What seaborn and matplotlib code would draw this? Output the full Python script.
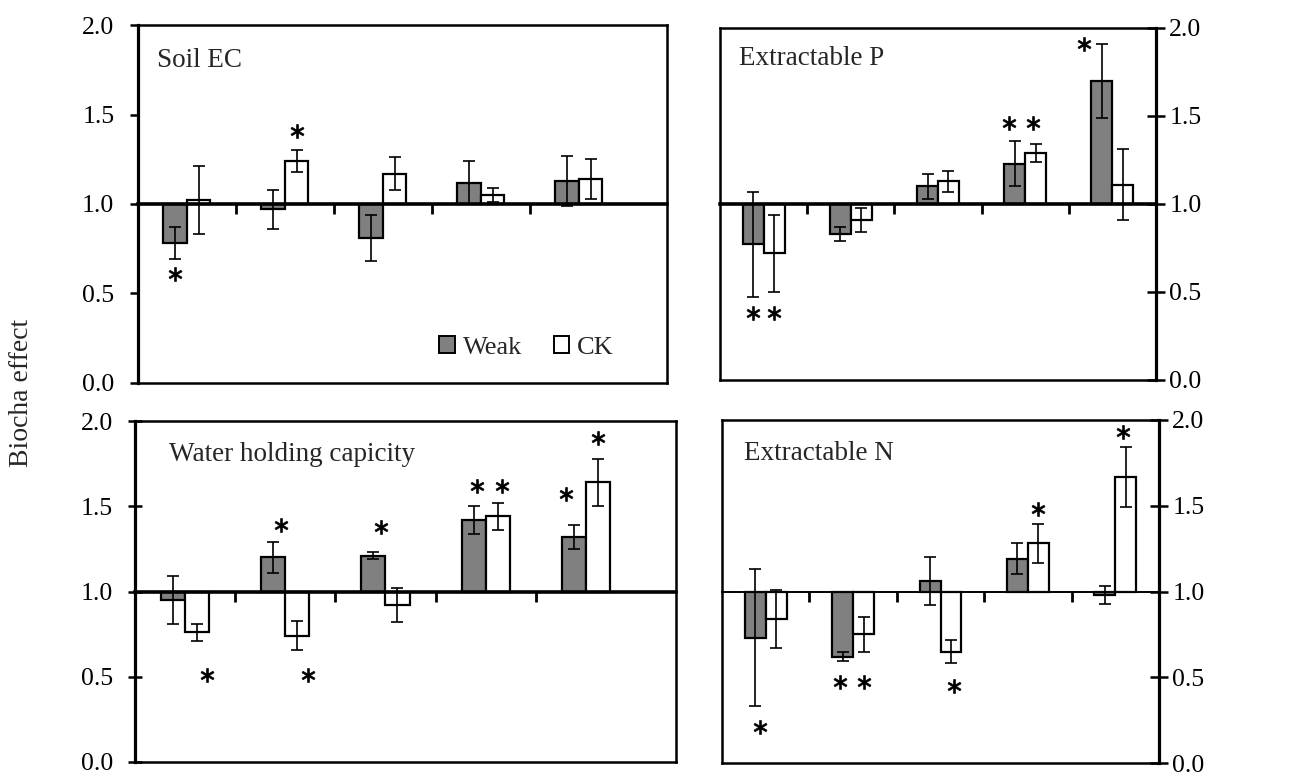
import matplotlib
matplotlib.use("Agg")
import matplotlib.pyplot as plt
import seaborn as sns
import pandas as pd
from matplotlib.patches import Patch
from matplotlib.ticker import FormatStrFormatter

# ---------------- data ----------------
treatments = ["Weak", "CK"]
groups = ["G1", "G2", "G3", "G4", "G5"]   # categories are unlabeled in the figure
panel_titles = ["Soil EC", "Extractable P", "Water holding capicity", "Extractable N"]
y_label = "Biocha effect"
y_ticks = [0.0, 0.5, 1.0, 1.5, 2.0]

# Soil EC
ec_weak = [0.78, 0.97, 0.81, 1.12, 1.13]
ec_weak_err = [0.09, 0.11, 0.13, 0.12, 0.14]
ec_ck = [1.02, 1.24, 1.17, 1.05, 1.14]
ec_ck_err = [0.19, 0.06, 0.09, 0.04, 0.11]
# significance marks: (group index, treatment, level, horizontal shift in category units)
ec_stars = [(0, "Weak", 0.61, 0.0), (1, "CK", 1.41, 0.0)]

# Extractable P
p_weak = [0.77, 0.83, 1.10, 1.23, 1.70]
p_weak_err = [0.30, 0.04, 0.07, 0.13, 0.21]
p_ck = [0.72, 0.91, 1.13, 1.29, 1.11]
p_ck_err = [0.22, 0.07, 0.06, 0.05, 0.20]
p_stars = [(0, "Weak", 0.38, 0.0), (0, "CK", 0.38, 0.0), (3, "Weak", 1.46, -0.07),
           (3, "CK", 1.46, -0.03), (4, "Weak", 1.91, -0.20)]

# Water holding capacity
w_weak = [0.95, 1.20, 1.21, 1.42, 1.32]
w_weak_err = [0.14, 0.09, 0.02, 0.08, 0.07]
w_ck = [0.76, 0.74, 0.92, 1.44, 1.64]
w_ck_err = [0.05, 0.085, 0.10, 0.08, 0.14]
w_stars = [(0, "CK", 0.51, 0.10), (1, "Weak", 1.39, 0.08), (1, "CK", 0.51, 0.11),
           (2, "Weak", 1.38, 0.08), (3, "Weak", 1.62, 0.03), (3, "CK", 1.62, 0.04),
           (4, "Weak", 1.57, -0.08), (4, "CK", 1.90, 0.0)]

# Extractable N
n_weak = [0.73, 0.62, 1.06, 1.19, 0.98]
n_weak_err = [0.40, 0.025, 0.14, 0.09, 0.05]
n_ck = [0.84, 0.75, 0.65, 1.28, 1.67]
n_ck_err = [0.17, 0.10, 0.065, 0.115, 0.175]
n_stars = [(0, "Weak", 0.21, 0.06), (1, "Weak", 0.47, -0.03), (1, "CK", 0.47, 0.0),
           (2, "CK", 0.45, 0.03), (3, "CK", 1.48, 0.0), (4, "CK", 1.93, -0.03)]

# ---------------- style ----------------
sns.set_style("ticks")
plt.rcParams["font.family"] = ["Liberation Serif", "DejaVu Serif"]
palette = {"Weak": "#808080", "CK": "#ffffff"}

W, H = 1291, 775
fig = plt.figure(figsize=(W / 100, H / 100), dpi=100)


def box(l, r, t, b):
    return [l / W, 1 - b / H, (r - l) / W, (b - t) / H]


panels = [
    dict(title=panel_titles[0], weak=ec_weak, weak_err=ec_weak_err, ck=ec_ck, ck_err=ec_ck_err,
         stars=ec_stars, rect=box(138, 667, 25, 383), side="left", xmax=4.9,
         title_pos=(0.035, 0.883), legend=True, zero_lw=2.6, tick_dir="out", tick_len=6),
    dict(title=panel_titles[1], weak=p_weak, weak_err=p_weak_err, ck=p_ck, ck_err=p_ck_err,
         stars=p_stars, rect=box(720, 1156, 28, 380), side="right", xmax=4.5,
         title_pos=(0.044, 0.895), legend=False, zero_lw=2.6, tick_dir="inout", tick_len=13),
    dict(title=panel_titles[2], weak=w_weak, weak_err=w_weak_err, ck=w_ck, ck_err=w_ck_err,
         stars=w_stars, rect=box(135, 676, 421, 762), side="left", xmax=4.9,
         title_pos=(0.062, 0.883), legend=False, zero_lw=2.6, tick_dir="inout", tick_len=10),
    dict(title=panel_titles[3], weak=n_weak, weak_err=n_weak_err, ck=n_ck, ck_err=n_ck_err,
         stars=n_stars, rect=box(722, 1159, 420, 763), side="right", xmax=4.5,
         title_pos=(0.05, 0.883), legend=False, zero_lw=1.4, tick_dir="inout", tick_len=13),
]

for p in panels:
    ax = fig.add_axes(p["rect"])
    df = pd.DataFrame({
        "group": groups * 2,
        "treatment": ["Weak"] * len(groups) + ["CK"] * len(groups),
        "value": p["weak"] + p["ck"],
    })
    df["delta"] = df["value"] - 1.0   # bars grow from the 1.0 reference line

    sns.barplot(data=df, x="group", y="delta", hue="treatment", hue_order=treatments,
                palette=palette, width=0.48, bottom=1.0, edgecolor="black", linewidth=1.6,
                errorbar=None, legend=False, ax=ax, zorder=2)

    bar_conts = list(ax.containers)[:2]
    centers = {}
    for trt, cont, vals, errs in zip(treatments, bar_conts,
                                     [p["weak"], p["ck"]], [p["weak_err"], p["ck_err"]]):
        xs = [b.get_x() + b.get_width() / 2 for b in cont]
        centers[trt] = xs
        ax.errorbar(xs, vals, yerr=errs, fmt="none", ecolor="black", elinewidth=1.2,
                    capsize=4.5, capthick=1.2, zorder=4)

    sx = [centers[t][g] + dx for g, t, lvl, dx in p["stars"]]
    sy = [lvl for g, t, lvl, dx in p["stars"]]
    ax.scatter(sx, sy, marker=r"$\ast$", s=100, color="black", linewidths=0.5, zorder=5)

    ax.set_ylim(0, 2)
    ax.set_xlim(-0.5, p["xmax"])
    ax.set_xlabel("")
    ax.set_ylabel("")
    ax.tick_params(axis="x", bottom=False, labelbottom=False)
    ax.set_yticks(y_ticks)
    ax.yaxis.set_major_formatter(FormatStrFormatter("%.1f"))
    if p["side"] == "right":
        ax.yaxis.tick_right()
        ax.tick_params(axis="y", direction=p["tick_dir"], length=p["tick_len"], width=1.8,
                       labelsize=18.5, pad=3, colors="black")
    else:
        ax.tick_params(axis="y", direction=p["tick_dir"], length=p["tick_len"], width=1.8,
                       labelsize=18.5, pad=11, colors="black")
    for s in ["top", "bottom", "left", "right"]:
        ax.spines[s].set_visible(True)
        ax.spines[s].set_color("black")
        ax.spines[s].set_linewidth(1.8)
    ax.spines[p["side"]].set_linewidth(2.3)

    # horizontal reference axis at 1.0 with category separator ticks
    sec = ax.secondary_xaxis(0.5)
    sec.set_alignment("bottom")
    sec.set_xticks([0.5, 1.5, 2.5, 3.5])
    sec.set_xticklabels([])
    sec.tick_params(axis="x", direction="out", length=7, width=2, colors="black")
    sec.spines["bottom"].set_linewidth(p["zero_lw"])
    sec.spines["bottom"].set_color("black")
    sec.set_zorder(3)

    ax.text(p["title_pos"][0], p["title_pos"][1], p["title"], transform=ax.transAxes,
            fontsize=19.5, ha="left", va="baseline")

    if p["legend"]:
        handles = [Patch(facecolor=palette[t], edgecolor="black", linewidth=1.4, label=t)
                   for t in treatments]
        ax.legend(handles=handles, loc="center right", bbox_to_anchor=(0.9, 0.099), ncol=2,
                  frameon=False, fontsize=19, handlelength=0.6, handleheight=0.6,
                  handletextpad=0.3, columnspacing=1.2, borderaxespad=0, borderpad=0)

fig.text(0.0165, 0.4935, y_label, rotation=90, fontsize=20, ha="center", va="center")

fig.savefig("out.png", dpi=100)
